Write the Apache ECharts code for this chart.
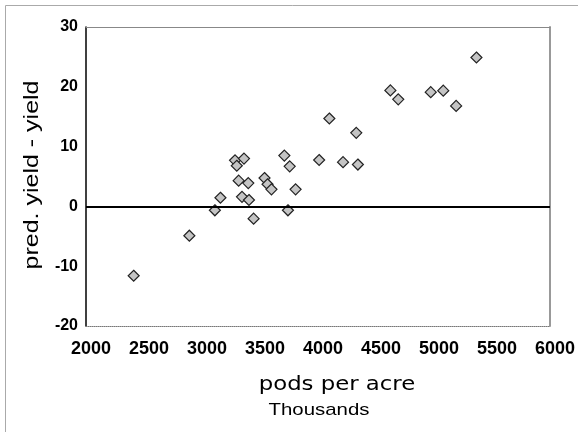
<!DOCTYPE html>
<html><head><meta charset="utf-8">
<script src="https://cdn.jsdelivr.net/npm/echarts@6/dist/echarts.min.js"></script>
<style>html,body{margin:0;padding:0;background:#fff}#c{width:578px;height:432px}</style>
</head><body><div id="c"></div>
<script>
// pods per acre (thousands) and pred. yield - yield
const podsPerAcre = [2411, 2891, 3111, 3159, 3285, 3300, 3362, 3316, 3399, 3345, 3405, 3445, 3539, 3565, 3599, 3710, 3756, 3741, 3807, 4010, 4098, 4330, 4216, 4344, 4624, 4692, 4972, 5080, 5191, 5366];
const yieldDiff   = [-11.6, -4.9, -0.65, 1.45, 7.7, 6.8, 8.0, 4.3, 3.9, 1.6, 1.07, -2.05, 4.75, 3.7, 2.85, 8.5, 6.7, -0.65, 2.85, 7.76, 14.7, 12.3, 7.4, 7.0, 19.4, 17.9, 19.1, 19.35, 16.8, 24.9];
const xTicks = [2000, 2500, 3000, 3500, 4000, 4500, 5000, 5500, 6000];
const yTicks = [-20, -10, 0, 10, 20, 30];
const xTitle = 'pods per acre';
const xSubTitle = 'Thousands';
const yTitle = 'pred. yield - yield';

const points = podsPerAcre.map((x, i) => [x, yieldDiff[i]]);
const chart = echarts.init(document.getElementById('c'), null, {renderer: 'canvas'});
const fam = 'Liberation Sans, Arial, sans-serif';
chart.setOption({
  animation: false,
  backgroundColor: '#fff',
  grid: {left: 86, top: 27, width: 467, height: 299, show: false},
  xAxis: [{
    type: 'value', min: xTicks[0], max: xTicks[xTicks.length - 1], interval: 500,
    axisLine: {onZero: false, lineStyle: {color: '#777', width: 1, type: 'dotted'}},
    axisTick: {show: false}, splitLine: {show: false},
    axisLabel: {margin: 14, fontFamily: fam, fontWeight: 'bold', fontSize: 18, color: '#000',
      padding: [0, 0, 0, 10], formatter: v => String(v)}
  }, {
    type: 'value', position: 'top', min: xTicks[0], max: xTicks[xTicks.length - 1],
    axisLine: {onZero: false, lineStyle: {color: '#888', width: 1}},
    axisTick: {show: false}, splitLine: {show: false}, axisLabel: {show: false}
  }],
  yAxis: [{
    type: 'value', min: yTicks[0], max: yTicks[yTicks.length - 1], interval: 10,
    axisLine: {show: true, onZero: false, lineStyle: {color: '#000', width: 1.5}},
    axisTick: {show: false}, splitLine: {show: false},
    axisLabel: {margin: 8, fontFamily: fam, fontWeight: 'bold', fontSize: 16, color: '#000'}
  }, {
    type: 'value', position: 'right', min: yTicks[0], max: yTicks[yTicks.length - 1],
    axisLine: {show: true, onZero: false, lineStyle: {color: '#999', width: 2}},
    axisTick: {show: false}, splitLine: {show: false}, axisLabel: {show: false}
  }],
  series: [{
    type: 'scatter', data: points, symbol: 'diamond', symbolSize: 11,
    itemStyle: {color: '#c4c4c4', borderColor: '#222', borderWidth: 1.2, opacity: 1},
    markLine: {
      silent: true, symbol: 'none', label: {show: false},
      lineStyle: {color: '#000', width: 2, type: 'solid'},
      data: [{yAxis: 0}]
    },
    z: 3
  }],
  graphic: [
    {type: 'rect', shape: {x: 5.5, y: 5.5, width: 700, height: 600}, style: {fill: 'none', stroke: '#aaa', lineWidth: 1}, silent: true, z: -1},
    {type: 'text', x: 337, y: 385, scaleX: 1.14, style: {text: xTitle, font: '20px "DejaVu Sans", sans-serif', fill: '#000', textAlign: 'center', textVerticalAlign: 'middle'}},
    {type: 'text', x: 319, y: 410, scaleX: 1.2, style: {text: xSubTitle, font: '17px "Liberation Sans", Arial, sans-serif', fill: '#000', textAlign: 'center', textVerticalAlign: 'middle'}},
    {type: 'text', x: 32, y: 175, rotation: Math.PI / 2, scaleX: 1.25, style: {text: yTitle, font: '20px "Liberation Sans", Arial, sans-serif', fill: '#000', textAlign: 'center', textVerticalAlign: 'middle'}}
  ]
});
</script></body></html>
